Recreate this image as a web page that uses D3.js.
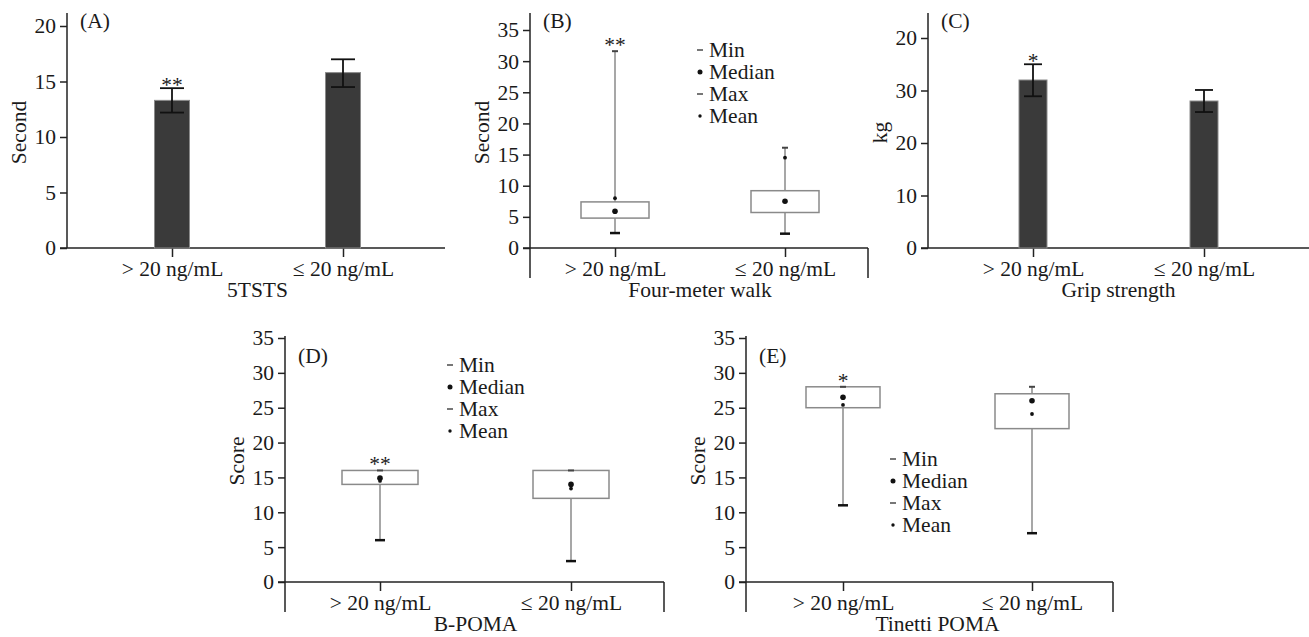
<!DOCTYPE html>
<html>
<head>
<meta charset="utf-8">
<script src="https://cdn.jsdelivr.net/npm/d3@7"></script>
<style>
  body { margin: 0; background: #fff; }
  text { font-family: "Liberation Serif", "Times New Roman", serif; fill: #1a1a1a; }
</style>
</head>
<body>
<svg id="chart" width="1309" height="637"></svg>
<script>
// groups on the x axis of every panel
var groups = ["> 20 ng/mL", "\u2264 20 ng/mL"];

// (A) 5TSTS, mean with error bar
var tstsMean = [13.3, 15.8];
var tstsLow = [12.2, 14.5];
var tstsHigh = [14.4, 17.0];
var tstsSig = ["**", ""];

// (C) grip strength, mean with error bar
var gripMean = [32.0, 28.0];
var gripLow = [28.9, 25.9];
var gripHigh = [35.0, 30.1];
var gripSig = ["*", ""];

// (B) four-meter walk, box summary
var walkMin = [2.4, 2.3];
var walkQ1 = [4.8, 5.7];
var walkMedian = [5.9, 7.5];
var walkQ3 = [7.4, 9.2];
var walkMax = [31.6, 16.1];
var walkMean = [8.0, 14.5];
var walkSig = ["**", ""];

// (D) B-POMA
var bpomaMin = [6, 3];
var bpomaQ1 = [14, 12];
var bpomaMedian = [14.9, 14.0];
var bpomaQ3 = [16, 16];
var bpomaMax = [16, 16];
var bpomaMean = [14.5, 13.4];
var bpomaSig = ["**", ""];

// (E) Tinetti POMA
var tinMin = [11, 7];
var tinQ1 = [25, 22];
var tinMedian = [26.5, 26.0];
var tinQ3 = [28, 27];
var tinMax = [28, 28];
var tinMean = [25.4, 24.1];
var tinSig = ["*", ""];

// y tick labels (panel C really reads 0,10,20,30,20 in the figure)
var ticks35 = [0, 5, 10, 15, 20, 25, 30, 35];
var ticks20 = [0, 5, 10, 15, 20];
var gripTickValues = [0, 10, 20, 30, 40];
var gripTickLabels = ["0", "10", "20", "30", "20"];

var legendItems = ["Min", "Median", "Max", "Mean"];

var svg = d3.select("#chart");
var FONT = 21.5;

function drawFrame(p) {
    var g = svg.append("g");
    var y = d3.scaleLinear().domain(p.domain).range(p.yRange);
    var x = d3.scalePoint().domain(groups).range(p.xRange);

    // y axis
    var yg = g.append("g")
        .attr("transform", `translate(${p.ax},0)`)
        .call(d3.axisLeft(y)
            .tickValues(p.tickValues)
            .tickFormat((d, i) => p.tickLabels ? p.tickLabels[i] : d)
            .tickSize(7)
            .tickPadding(4));
    yg.select(".domain").remove();
    yg.attr("font-size", FONT).attr("font-family", null);
    yg.selectAll("line").attr("stroke", "#222").attr("stroke-width", 1.5);

    g.append("line")
        .attr("x1", p.ax).attr("x2", p.ax)
        .attr("y1", p.top).attr("y2", p.bottom)
        .attr("stroke", "#222").attr("stroke-width", 1.5);

    // x axis
    var y0 = y(0);
    var xg = g.append("g")
        .attr("transform", `translate(0,${y0})`)
        .call(d3.axisBottom(x).tickSize(9).tickPadding(4));
    xg.select(".domain").remove();
    xg.attr("font-size", FONT).attr("font-family", null);
    xg.selectAll("line").attr("stroke", "#222").attr("stroke-width", 1.5);

    g.append("line")
        .attr("x1", p.ax - 7).attr("x2", p.right)
        .attr("y1", y0).attr("y2", y0)
        .attr("stroke", "#222").attr("stroke-width", 1.5);

    if (p.bottom > y0) {
        g.append("line")
            .attr("x1", p.right).attr("x2", p.right)
            .attr("y1", y0).attr("y2", p.bottom)
            .attr("stroke", "#222").attr("stroke-width", 1.5);
    }

    // titles
    g.append("text")
        .attr("x", (p.xRange[0] + p.xRange[1]) / 2)
        .attr("y", y0 + 49)
        .attr("text-anchor", "middle")
        .attr("font-size", FONT)
        .text(p.xTitle);

    g.append("text")
        .attr("transform", `translate(${p.ax - 41},${(p.top + y0) / 2 + 2}) rotate(-90)`)
        .attr("text-anchor", "middle")
        .attr("font-size", FONT)
        .text(p.yTitle);

    g.append("text")
        .attr("x", p.ax + 13)
        .attr("y", p.labelY)
        .attr("font-size", FONT)
        .text(p.label);

    return { g: g, x: x, y: y };
}

function drawBars(f, mean, low, high, sig, barW, capW) {
    var x = f.x, y = f.y, g = f.g;
    g.selectAll(".bar")
        .data(groups)
        .enter()
        .append("rect")
        .attr("x", d => x(d) - barW / 2)
        .attr("y", (d, i) => y(mean[i]))
        .attr("width", barW)
        .attr("height", (d, i) => y(0) - y(mean[i]))
        .attr("fill", "#3a3a3a")
        .attr("stroke", "#8a8a8a")
        .attr("stroke-width", 1);

    groups.forEach(function (d, i) {
        var cx = x(d);
        g.append("line")
            .attr("x1", cx).attr("x2", cx)
            .attr("y1", y(low[i])).attr("y2", y(high[i]))
            .attr("stroke", "#111").attr("stroke-width", 1.8);
        [low[i], high[i]].forEach(function (v) {
            g.append("line")
                .attr("x1", cx - capW / 2).attr("x2", cx + capW / 2)
                .attr("y1", y(v)).attr("y2", y(v))
                .attr("stroke", "#111").attr("stroke-width", 1.8);
        });
        if (sig[i]) {
            g.append("text")
                .attr("x", cx).attr("y", y(high[i]) + 4)
                .attr("text-anchor", "middle")
                .attr("font-size", FONT)
                .text(sig[i]);
        }
    });
}

function drawBoxes(f, mins, q1, med, q3, maxs, means, sig, boxW) {
    var x = f.x, y = f.y, g = f.g;
    groups.forEach(function (d, i) {
        var cx = x(d);
        // whisker
        g.append("line")
            .attr("x1", cx).attr("x2", cx)
            .attr("y1", y(mins[i])).attr("y2", y(maxs[i]))
            .attr("stroke", "#8a8a8a").attr("stroke-width", 1.5);
        // box
        g.append("rect")
            .attr("x", cx - boxW / 2)
            .attr("y", y(q3[i]))
            .attr("width", boxW)
            .attr("height", y(q1[i]) - y(q3[i]))
            .attr("fill", "#fff")
            .attr("stroke", "#8a8a8a")
            .attr("stroke-width", 1.5);
        // min and max caps
        g.append("line")
            .attr("x1", cx - 5).attr("x2", cx + 5)
            .attr("y1", y(mins[i])).attr("y2", y(mins[i]))
            .attr("stroke", "#111").attr("stroke-width", 2.5);
        g.append("line")
            .attr("x1", cx - 3).attr("x2", cx + 3)
            .attr("y1", y(maxs[i])).attr("y2", y(maxs[i]))
            .attr("stroke", "#444").attr("stroke-width", 2);
        // median and mean
        g.append("circle")
            .attr("cx", cx).attr("cy", y(med[i])).attr("r", 2.8)
            .attr("fill", "#111");
        g.append("circle")
            .attr("cx", cx).attr("cy", y(means[i])).attr("r", 1.9)
            .attr("fill", "#111");
        if (sig[i]) {
            g.append("text")
                .attr("x", cx).attr("y", y(maxs[i]) + 1)
                .attr("text-anchor", "middle")
                .attr("font-size", FONT)
                .text(sig[i]);
        }
    });
}

function drawLegend(f, lx, ly) {
    var g = f.g.append("g").attr("transform", `translate(${lx},${ly})`);
    legendItems.forEach(function (name, i) {
        var yy = i * 22;
        if (name === "Min" || name === "Max") {
            g.append("line")
                .attr("x1", -3).attr("x2", 3)
                .attr("y1", yy).attr("y2", yy)
                .attr("stroke", "#555").attr("stroke-width", 1.6);
        } else {
            g.append("circle")
                .attr("cx", 0).attr("cy", yy)
                .attr("r", name === "Median" ? 2.5 : 1.7)
                .attr("fill", "#111");
        }
        g.append("text")
            .attr("x", 9).attr("y", yy + 7)
            .attr("font-size", FONT)
            .text(name);
    });
}

// (A)
var fA = drawFrame({
    ax: 67, right: 445, top: 13, bottom: 248,
    domain: [0, 20], yRange: [248, 26], xRange: [172, 343],
    tickValues: ticks20, xTitle: "5TSTS", yTitle: "Second",
    label: "(A)", labelY: 28
});
drawBars(fA, tstsMean, tstsLow, tstsHigh, tstsSig, 35, 24);

// (B)
var fB = drawFrame({
    ax: 530, right: 868, top: 13, bottom: 278,
    domain: [0, 35], yRange: [248, 30], xRange: [615, 785],
    tickValues: ticks35, xTitle: "Four-meter walk", yTitle: "Second",
    label: "(B)", labelY: 28
});
drawBoxes(fB, walkMin, walkQ1, walkMedian, walkQ3, walkMax, walkMean, walkSig, 68);
drawLegend(fB, 700, 50);

// (C)
var fC = drawFrame({
    ax: 928, right: 1309, top: 13, bottom: 248,
    domain: [0, 40], yRange: [248, 38], xRange: [1033, 1204],
    tickValues: gripTickValues, tickLabels: gripTickLabels,
    xTitle: "Grip strength", yTitle: "kg",
    label: "(C)", labelY: 28
});
drawBars(fC, gripMean, gripLow, gripHigh, gripSig, 28, 18);

// (D)
var fD = drawFrame({
    ax: 285, right: 664, top: 336, bottom: 612,
    domain: [0, 35], yRange: [582, 338], xRange: [380, 571],
    tickValues: ticks35, xTitle: "B-POMA", yTitle: "Score",
    label: "(D)", labelY: 363
});
drawBoxes(fD, bpomaMin, bpomaQ1, bpomaMedian, bpomaQ3, bpomaMax, bpomaMean, bpomaSig, 76);
drawLegend(fD, 450, 365);

// (E)
var fE = drawFrame({
    ax: 746, right: 1113, top: 336, bottom: 612,
    domain: [0, 35], yRange: [582, 338], xRange: [843, 1032],
    tickValues: ticks35, xTitle: "Tinetti POMA", yTitle: "Score",
    label: "(E)", labelY: 363
});
drawBoxes(fE, tinMin, tinQ1, tinMedian, tinQ3, tinMax, tinMean, tinSig, 74);
drawLegend(fE, 893, 459);
</script>
</body>
</html>
